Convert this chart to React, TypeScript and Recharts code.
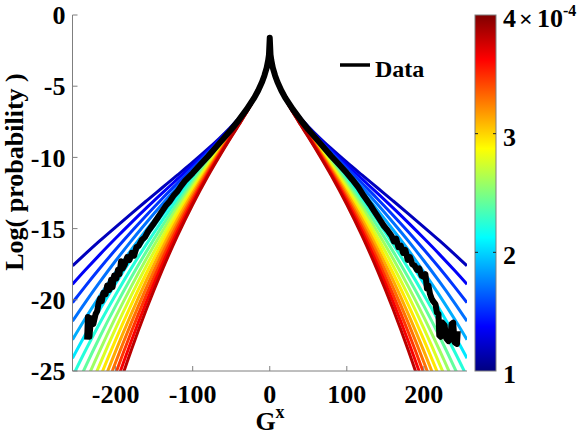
import React from 'react';
import { LineChart, Line, XAxis, YAxis } from 'recharts';

// x positions (one side, curves are symmetric about 0)
const curveX = [0, 1, 2, 4, 7, 10, 15, 20, 30, 40, 50, 65, 80, 100, 120, 140, 160, 180, 200, 220, 240, 256];

// model curves, parameter value in units of 1e-4
const p100 = [-1.6, -2.78, -3.17, -3.71, -4.26, -4.70, -5.28, -5.76, -6.56, -7.23, -7.83, -8.64, -9.39, -10.34, -11.25, -12.15, -13.05, -13.96, -14.89, -15.83, -16.81, -17.61];
const p120 = [-1.6, -2.78, -3.17, -3.71, -4.26, -4.70, -5.29, -5.77, -6.58, -7.27, -7.88, -8.73, -9.52, -10.53, -11.53, -12.53, -13.55, -14.60, -15.68, -16.79, -17.95, -18.91];
const p140 = [-1.6, -2.78, -3.17, -3.71, -4.26, -4.70, -5.29, -5.78, -6.60, -7.30, -7.93, -8.81, -9.65, -10.73, -11.82, -12.92, -14.06, -15.24, -16.47, -17.75, -19.09, -20.20];
const p160 = [-1.6, -2.78, -3.17, -3.71, -4.26, -4.71, -5.30, -5.79, -6.61, -7.33, -7.98, -8.89, -9.77, -10.93, -12.10, -13.31, -14.57, -15.88, -17.26, -18.71, -20.23, -21.50];
const p180 = [-1.6, -2.78, -3.17, -3.71, -4.26, -4.71, -5.30, -5.80, -6.63, -7.36, -8.03, -8.98, -9.90, -11.13, -12.39, -13.70, -15.08, -16.52, -18.05, -19.67, -21.37, -22.80];
const p200 = [-1.6, -2.78, -3.17, -3.71, -4.26, -4.71, -5.30, -5.80, -6.65, -7.39, -8.08, -9.06, -10.03, -11.33, -12.67, -14.09, -15.58, -17.17, -18.85, -20.63, -22.51, -24.10];
const p220 = [-1.6, -2.78, -3.17, -3.71, -4.26, -4.71, -5.31, -5.81, -6.67, -7.42, -8.13, -9.14, -10.15, -11.52, -12.96, -14.47, -16.09, -17.81, -19.64, -21.58, -23.65, -25.40];
const p240 = [-1.6, -2.78, -3.17, -3.71, -4.26, -4.71, -5.31, -5.82, -6.69, -7.45, -8.18, -9.23, -10.28, -11.72, -13.24, -14.86, -16.60, -18.45, -20.43, -22.54, -24.79, -26.69];
const p260 = [-1.6, -2.78, -3.17, -3.71, -4.26, -4.71, -5.32, -5.83, -6.70, -7.49, -8.23, -9.31, -10.41, -11.92, -13.53, -15.25, -17.10, -19.09, -21.22, -23.50, -25.93, -27.99];
const p280 = [-1.6, -2.78, -3.17, -3.71, -4.26, -4.72, -5.32, -5.83, -6.72, -7.52, -8.28, -9.40, -10.53, -12.12, -13.81, -15.64, -17.61, -19.73, -22.01, -24.46, -27.07, -29.29];
const p300 = [-1.6, -2.78, -3.17, -3.71, -4.26, -4.72, -5.33, -5.84, -6.74, -7.55, -8.33, -9.48, -10.66, -12.32, -14.10, -16.03, -18.12, -20.37, -22.81, -25.42, -28.21, -30.59];
const p320 = [-1.6, -2.78, -3.17, -3.71, -4.26, -4.72, -5.33, -5.85, -6.76, -7.58, -8.38, -9.56, -10.79, -12.51, -14.38, -16.42, -18.62, -21.02, -23.60, -26.38, -29.35, -31.88];
const p340 = [-1.6, -2.78, -3.17, -3.71, -4.26, -4.72, -5.34, -5.86, -6.78, -7.61, -8.43, -9.65, -10.91, -12.71, -14.67, -16.80, -19.13, -21.66, -24.39, -27.33, -30.49, -33.18];
const p360 = [-1.6, -2.78, -3.17, -3.71, -4.26, -4.72, -5.34, -5.87, -6.79, -7.65, -8.47, -9.73, -11.04, -12.91, -14.96, -17.19, -19.64, -22.30, -25.18, -28.29, -31.63, -34.48];
const p380 = [-1.6, -2.78, -3.17, -3.71, -4.26, -4.73, -5.34, -5.87, -6.81, -7.68, -8.52, -9.81, -11.17, -13.11, -15.24, -17.58, -20.14, -22.94, -25.97, -29.25, -32.78, -35.78];
const p400 = [-1.6, -2.78, -3.17, -3.71, -4.26, -4.73, -5.35, -5.88, -6.83, -7.71, -8.57, -9.90, -11.29, -13.31, -15.53, -17.97, -20.65, -23.58, -26.77, -30.21, -33.92, -37.07];

const curves = [p100, p120, p140, p160, p180, p200, p220, p240, p260, p280, p300, p320, p340, p360, p380, p400];

// measured data (black)
const dataX = [-237, -236, -234, -232, -229, -226, -224, -222, -220, -218, -216, -213, -211, -208, -206, -204, -202, -199, -197, -195, -193, -191, -188, -185, -182, -179, -176, -173, -170, -166, -162, -158, -154, -150, -145, -140, -135, -130, -125, -120, -115, -110, -100, -90, -80, -65, -50, -40, -30, -20, -15, -10, -7, -4, -2, -1, 0,
  1, 2, 4, 7, 10, 15, 20, 30, 40, 50, 65, 80, 90, 100, 107, 115, 122, 130, 136, 142, 148, 154, 158, 161, 164, 167, 170, 173, 176, 179, 182, 185, 188, 191, 194, 197, 200, 202, 204, 206, 208, 210, 212, 215, 217, 219, 220, 222, 224, 227, 229, 232, 234, 236, 238, 240, 243, 244];
const dataY = [-22.8, -21.2, -22.6, -21.3, -21.7, -21.0, -20.8, -20.2, -19.9, -20.1, -19.5, -19.6, -19.0, -19.3, -18.6, -19.1, -18.3, -18.5, -17.9, -18.2, -17.3, -17.8, -17.5, -17.0, -17.2, -16.7, -16.9, -16.3, -16.2, -15.8, -15.6, -15.2, -14.9, -14.6, -14.2, -13.8, -13.4, -13.1, -12.7, -12.4, -12.0, -11.65, -11.1, -10.5, -9.92, -8.98, -8.05, -7.36, -6.63, -5.80, -5.30, -4.71, -4.26, -3.71, -3.17, -2.78, -1.6,
  -2.78, -3.17, -3.71, -4.26, -4.71, -5.30, -5.80, -6.63, -7.36, -8.05, -8.98, -9.92, -10.5, -11.1, -11.55, -12.1, -12.7, -13.3, -13.8, -14.3, -14.8, -15.2, -15.5, -15.9, -15.7, -16.3, -16.2, -16.7, -16.5, -17.2, -17.0, -17.5, -17.6, -17.9, -17.8, -18.3, -18.4, -18.2, -19.2, -19.0, -19.6, -19.9, -20.1, -20.3, -20.9, -21.0, -22.5, -22.6, -21.6, -21.8, -22.7, -22.9, -22.8, -21.7, -21.6, -23.0, -23.1, -22.2];

const xTicks = [-200, -100, 0, 100, 200];
const yTicks = [-25, -20, -15, -10, -5, 0];
const colorbarTicks = [1, 2, 3, 4];

const FONT = "'Liberation Serif', 'Times New Roman', Times, serif";
const AXIS_GRAY = '#7f7f7f';

const jet = (t: number) => {
  const c = (v: number) => Math.round(255 * Math.max(0, Math.min(1, v)));
  return `rgb(${c(1.5 - Math.abs(4 * t - 3))},${c(1.5 - Math.abs(4 * t - 2))},${c(1.5 - Math.abs(4 * t - 1))})`;
};

const buildCurve = (vals: number[]) => {
  const pts: { x: number; y: number }[] = [];
  for (let i = curveX.length - 1; i > 0; i--) pts.push({ x: -curveX[i], y: vals[i] });
  for (let i = 0; i < curveX.length; i++) pts.push({ x: curveX[i], y: vals[i] });
  return pts;
};

const measured = dataX.map((x, i) => ({ x, y: dataY[i] }));

// layout
const W = 581;
const H = 436;
const M = { top: 15, right: 114, bottom: 0, left: 0 };
const Y_AXIS_W = 72.5;
const X_AXIS_H = 65;
const plotTop = M.top;
const plotBottom = H - X_AXIS_H;
const cbLeft = 475;
const cbRight = 496;
const cbY = (v: number) => plotBottom - ((v - 1) / 3) * (plotBottom - plotTop);

export default function App() {
  const tickStyle = { fill: '#000', fontSize: 26, fontWeight: 'bold', fontFamily: FONT };
  const txt = { fontFamily: FONT, fontWeight: 'bold' as const, fill: '#000' };
  return (
    <div style={{ position: 'absolute', left: 0, top: 0, width: W, height: H, background: '#fff' }}>
      <LineChart width={W} height={H} margin={M}>
        <XAxis xAxisId="b" type="number" dataKey="x" domain={[-256, 256]} ticks={xTicks} interval={0}
          allowDataOverflow height={X_AXIS_H} stroke={AXIS_GRAY} tickSize={-5} tickMargin={19}
          tick={tickStyle} tickLine={{ stroke: AXIS_GRAY }} />
        <XAxis xAxisId="t" orientation="top" type="number" dataKey="x" domain={[-256, 256]} ticks={xTicks} interval={0}
          allowDataOverflow height={0} stroke={AXIS_GRAY} tickSize={-5} tick={false} tickLine={{ stroke: AXIS_GRAY }} />
        <YAxis yAxisId="l" type="number" dataKey="y" domain={[-25, 0]} ticks={yTicks} interval={0}
          allowDataOverflow width={Y_AXIS_W} stroke={AXIS_GRAY} tickSize={-5} tickMargin={12}
          tick={tickStyle} tickLine={{ stroke: AXIS_GRAY }} />
        <YAxis yAxisId="r" orientation="right" type="number" dataKey="y" domain={[-25, 0]} ticks={yTicks} interval={0}
          allowDataOverflow width={0} stroke={AXIS_GRAY} tickSize={-5} tick={false} tickLine={{ stroke: AXIS_GRAY }} />
        {curves.map((vals, k) => (
          <Line key={k} xAxisId="b" yAxisId="l" data={buildCurve(vals)} dataKey="y" type="monotone"
            stroke={jet((k + 1) / 17)} strokeWidth={3} dot={false} isAnimationActive={false} />
        ))}
        <Line xAxisId="b" yAxisId="l" data={measured} dataKey="y" type="linear" stroke="#000"
          strokeWidth={6} dot={false} isAnimationActive={false} strokeLinejoin="round" />
      </LineChart>
      <svg width={W} height={H} style={{ position: 'absolute', left: 0, top: 0, pointerEvents: 'none' }}>
        <defs>
          <linearGradient id="jetgrad" x1="0" y1="1" x2="0" y2="0">
            <stop offset="0" stopColor="#000080" />
            <stop offset="0.125" stopColor="#0000ff" />
            <stop offset="0.375" stopColor="#00ffff" />
            <stop offset="0.625" stopColor="#ffff00" />
            <stop offset="0.875" stopColor="#ff0000" />
            <stop offset="1" stopColor="#800000" />
          </linearGradient>
        </defs>
        {/* y label */}
        <text x={23} y={172} transform="rotate(-90 23 172)" textAnchor="middle" fontSize={26} {...txt}>Log( probability )</text>
        {/* x label */}
        <text x={270} y={430} textAnchor="middle" fontSize={26} {...txt}>
          G<tspan fontSize={18} dy={-12}>x</tspan>
        </text>
        {/* legend */}
        <line x1={340} x2={370} y1={65} y2={65} stroke="#000" strokeWidth={3.5} />
        <text x={375} y={77} fontSize={24} {...txt}>Data</text>
        {/* colorbar */}
        <rect x={cbLeft} y={plotTop} width={cbRight - cbLeft} height={plotBottom - plotTop} fill="url(#jetgrad)"
          stroke={AXIS_GRAY} strokeWidth={1} />
        {colorbarTicks.slice(1, 3).map((v) => (
          <g key={v}>
            <line x1={cbLeft} x2={cbLeft + 3} y1={cbY(v)} y2={cbY(v)} stroke="#222" />
            <line x1={cbRight - 3} x2={cbRight} y1={cbY(v)} y2={cbY(v)} stroke="#222" />
          </g>
        ))}
        {colorbarTicks.slice(0, 3).map((v) => (
          <text key={v} x={503} y={cbY(v) + 12} fontSize={26} {...txt}>{v}</text>
        ))}
        <text x={503} y={cbY(4) + 12} fontSize={26} {...txt}>4</text>
        <text x={519} y={cbY(4) + 12} fontSize={24} {...txt}>×</text>
        <text x={537} y={cbY(4) + 12} fontSize={26} {...txt}>10</text>
        <text x={563} y={cbY(4) + 1} fontSize={16} {...txt}>-4</text>
      </svg>
    </div>
  );
}
